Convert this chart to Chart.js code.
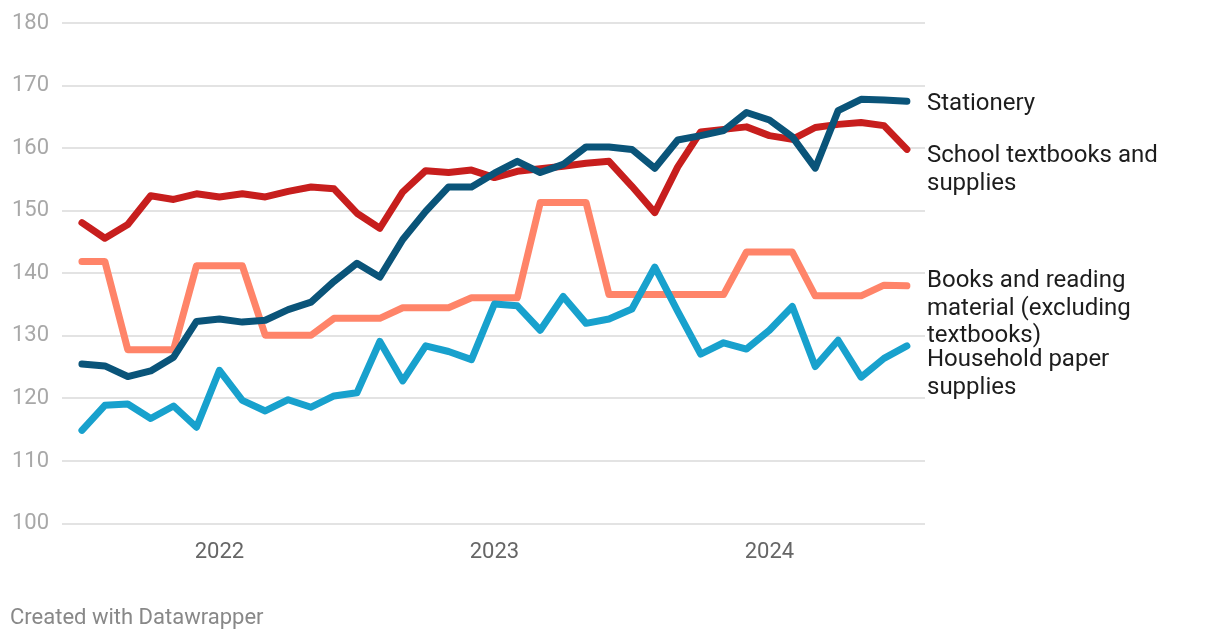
<!DOCTYPE html>
<html>
<head>
<meta charset="utf-8">
<script src="https://cdn.jsdelivr.net/npm/chart.js@4.4.1/dist/chart.umd.min.js"></script>
<style>
  html, body { margin: 0; padding: 0; background: #fff; }
  #wrap { position: relative; width: 1220px; height: 640px; }
  #footer { position: absolute; left: 10px; top: 604px; font-family: Roboto, sans-serif; font-size: 22px; color: #888; }
</style>
</head>
<body>
<div id="wrap">
  <canvas id="c" width="1220" height="640"></canvas>
  <div id="footer">Created with Datawrapper</div>
</div>
<script>
// Monthly, Jul 2021 .. Jul 2024
const months = [
  "2021-07","2021-08","2021-09","2021-10","2021-11","2021-12",
  "2022-01","2022-02","2022-03","2022-04","2022-05","2022-06",
  "2022-07","2022-08","2022-09","2022-10","2022-11","2022-12",
  "2023-01","2023-02","2023-03","2023-04","2023-05","2023-06",
  "2023-07","2023-08","2023-09","2023-10","2023-11","2023-12",
  "2024-01","2024-02","2024-03","2024-04","2024-05","2024-06",
  "2024-07"
];
const stationery = [125.5,125.2,123.5,124.4,126.6,132.3,132.7,132.2,132.5,134.2,135.4,138.7,
  141.6,139.4,145.4,149.9,153.8,153.8,156.0,157.9,156.1,157.4,160.2,160.2,
  159.8,156.8,161.3,162.0,162.8,165.7,164.5,161.8,156.8,166.0,167.8,167.7,167.5];
const schoolTextbooks = [148.1,145.6,147.8,152.4,151.8,152.7,152.2,152.7,152.2,153.1,153.8,153.5,
  149.6,147.2,153.0,156.4,156.1,156.5,155.3,156.3,156.7,157.1,157.6,157.9,
  153.9,149.7,157.0,162.6,163.0,163.4,162.0,161.4,163.3,163.8,164.1,163.6,159.8];
const booksReading = [141.9,141.9,127.8,127.8,127.8,141.2,141.2,141.2,130.1,130.1,130.1,132.8,
  132.8,132.8,134.5,134.5,134.5,136.1,136.1,136.1,151.3,151.3,151.3,136.6,
  136.6,136.6,136.6,136.6,136.6,143.4,143.4,143.4,136.4,136.4,136.4,138.1,138.0];
const householdPaper = [114.9,118.9,119.1,116.8,118.8,115.4,124.5,119.7,118.0,119.8,118.6,120.4,
  120.9,129.1,122.8,128.4,127.5,126.2,135.1,134.8,130.9,136.3,132.0,132.7,
  134.3,141.0,133.9,127.1,128.9,127.9,130.9,134.7,125.1,129.3,123.4,126.4,128.4];
const yTicks = [100,110,120,130,140,150,160,170,180];
const xTickMonths = ["2022-01","2023-01","2024-01"];
const xTickLabels = ["2022","2023","2024"];
const seriesNames = ["Stationery","Household paper supplies","School textbooks and supplies","Books and reading material (excluding textbooks)"];

const labelPlugin = {
  id: 'endLabels',
  afterDatasetsDraw(chart) {
    const ctx = chart.ctx;
    const x = 927;
    const lines = [
      {t: ["Stationery"], y: 104},
      {t: ["School textbooks and", "supplies"], y: 156},
      {t: ["Books and reading", "material (excluding", "textbooks)"], y: 281},
      {t: ["Household paper", "supplies"], y: 360}
    ];
    ctx.save();
    ctx.font = '24px Roboto, sans-serif';
    ctx.fillStyle = '#1d1d1d';
    ctx.textBaseline = 'middle';
    ctx.textAlign = 'left';
    lines.forEach(l => {
      l.t.forEach((s, k) => ctx.fillText(s, x, l.y + k * 27.5));
    });
    ctx.restore();
  }
};

function pts(arr) { return arr.map((v, i) => ({x: i, y: v})); }

new Chart(document.getElementById('c'), {
  type: 'line',
  data: {
    datasets: [
      {label: seriesNames[0], data: pts(stationery), borderColor: '#0a5479'},
      {label: seriesNames[1], data: pts(householdPaper), borderColor: '#18a1cd'},
      {label: seriesNames[2], data: pts(schoolTextbooks), borderColor: '#c71e1d'},
      {label: seriesNames[3], data: pts(booksReading), borderColor: '#ff8469'}
    ].map(d => Object.assign(d, {
      borderWidth: 7, pointRadius: 0, tension: 0, fill: false,
      borderCapStyle: 'round', borderJoinStyle: 'round'
    }))
  },
  options: {
    responsive: false,
    animation: false,
    devicePixelRatio: 1,
    layout: { padding: { left: 12, right: 295, top: 23, bottom: 66 } },
    plugins: { legend: { display: false }, tooltip: { enabled: false } },
    scales: {
      x: {
        type: 'linear',
        min: -0.87, max: 36.79,
        grid: { display: false },
        border: { display: false },
        afterBuildTicks(scale) {
          scale.ticks = xTickMonths.map(m => ({ value: months.indexOf(m) }));
        },
        ticks: {
          padding: 8,
          maxRotation: 0,
          autoSkip: false,
          color: '#666',
          font: { family: 'Roboto', size: 22 },
          callback(v) { const k = xTickMonths.indexOf(months[v]); return k >= 0 ? xTickLabels[k] : ''; }
        }
      },
      y: {
        min: 100, max: 180,
        afterBuildTicks(scale) { scale.ticks = yTicks.map(v => ({ value: v })); },
        afterFit(scale) { scale.width = 50; },
        grid: { color: '#e3e3e3', lineWidth: 2, drawTicks: false },
        border: { display: false },
        ticks: {
          crossAlign: 'far',
          padding: 0,
          color: '#a8a8a8',
          font: { family: 'Roboto', size: 22 }
        }
      }
    }
  },
  plugins: [labelPlugin]
});
</script>
</body>
</html>
